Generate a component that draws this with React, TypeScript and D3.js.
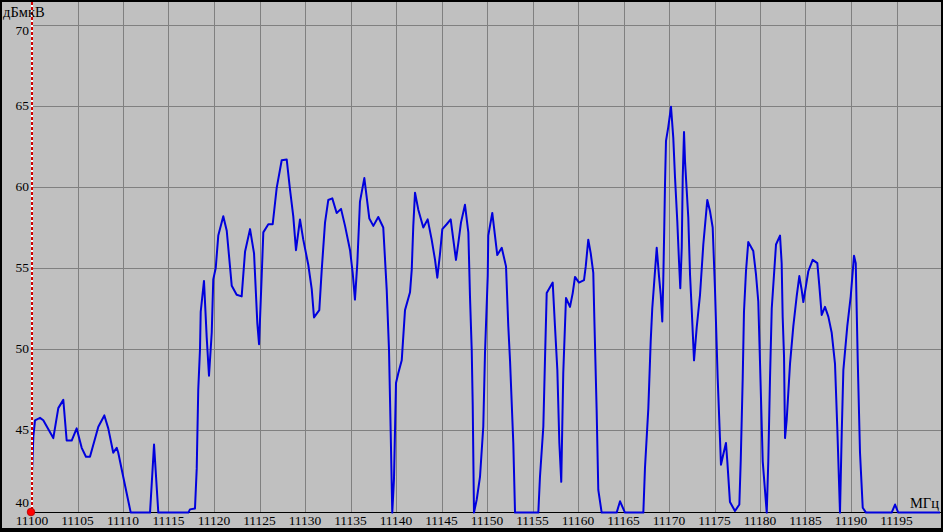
import React from "react";
import * as d3 from "d3";

// Spectrum trace (frequency in MHz, level in dBµV)
const FREQ_MHZ = [
  11100.0, 11100.15, 11100.33, 11100.88, 11101.24, 11102.34, 11102.89, 11103.44, 11103.81, 11104.36,
  11104.91, 11105.46, 11105.93, 11106.37, 11107.29, 11107.95, 11108.38, 11108.93, 11109.31, 11109.48,
  11110.03, 11110.85, 11112.97, 11113.41, 11113.88, 11117.18, 11117.36, 11117.91, 11118.1, 11118.27,
  11118.46, 11118.54, 11118.9, 11119.2, 11119.45, 11119.75, 11119.92, 11120.19, 11120.47, 11121.02,
  11121.4, 11121.95, 11122.49, 11123.04, 11123.41, 11123.96, 11124.4, 11124.76, 11124.95, 11125.24,
  11125.42, 11125.97, 11126.45, 11126.89, 11127.44, 11127.99, 11128.35, 11128.71, 11129.01, 11129.45,
  11129.81, 11130.36, 11130.74, 11130.99, 11131.57, 11131.84, 11132.2, 11132.56, 11133.0, 11133.48,
  11133.96, 11134.4, 11134.95, 11135.24, 11135.49, 11135.75, 11136.04, 11136.52, 11137.07, 11137.51,
  11138.05, 11138.6, 11138.98, 11139.23, 11139.42, 11139.59, 11139.78, 11140.0, 11140.25, 11140.63,
  11140.99, 11141.54, 11141.73, 11141.9, 11142.09, 11142.45, 11143.0, 11143.48, 11143.92, 11144.29,
  11144.54, 11144.84, 11145.09, 11145.57, 11146.01, 11146.3, 11146.59, 11146.85, 11147.14, 11147.58,
  11147.95, 11148.13, 11148.32, 11148.43, 11148.57, 11148.87, 11149.23, 11149.59, 11149.78, 11150.08,
  11150.14, 11150.58, 11151.13, 11151.62, 11152.09, 11152.34, 11152.53, 11152.89, 11153.08, 11155.64,
  11155.82, 11156.19, 11156.37, 11156.56, 11157.22, 11157.47, 11157.73, 11157.95, 11158.16, 11158.38,
  11158.68, 11159.12, 11159.42, 11159.67, 11160.11, 11160.66, 11160.85, 11161.13, 11161.4, 11161.68,
  11161.79, 11162.05, 11162.23, 11162.6, 11164.25, 11164.62, 11165.16, 11167.18, 11167.36, 11167.73,
  11167.99, 11168.16, 11168.35, 11168.65, 11168.9, 11169.09, 11169.26, 11169.37, 11169.48, 11169.56,
  11169.67, 11169.92, 11170.22, 11170.47, 11170.66, 11170.91, 11171.1, 11171.24, 11171.4, 11171.51,
  11171.65, 11171.76, 11171.95, 11172.12, 11172.31, 11172.49, 11172.75, 11173.04, 11173.41, 11173.77,
  11174.21, 11174.51, 11174.8, 11175.05, 11175.35, 11175.6, 11175.71, 11175.97, 11176.26, 11176.41,
  11176.7, 11177.25, 11177.73, 11177.88, 11178.1, 11178.24, 11178.46, 11178.71, 11179.26, 11179.56,
  11179.81, 11180.0, 11180.3, 11180.74, 11180.91, 11181.1, 11181.29, 11181.54, 11181.76, 11182.2,
  11182.38, 11182.49, 11182.64, 11182.75, 11182.93, 11183.3, 11183.66, 11184.03, 11184.32, 11184.58,
  11184.76, 11185.05, 11185.31, 11185.79, 11186.3, 11186.52, 11186.78, 11187.14, 11187.51, 11187.88,
  11188.24, 11188.49, 11188.79, 11188.98, 11189.16, 11189.59, 11189.97, 11190.33, 11190.52, 11190.74,
  11190.99, 11191.29, 11191.65, 11194.47, 11194.84, 11195.19, 11199.78,
];

const LEVEL_DB = [
  42.35, 44.6, 45.6, 45.75, 45.6, 44.5, 46.35, 46.86, 44.35, 44.35,
  45.1, 43.9, 43.35, 43.35, 45.2, 45.9, 45.1, 43.6, 43.9, 43.6,
  42.1, 39.9, 39.9, 44.1, 39.9, 39.9, 40.1, 40.15, 42.6, 47.5,
  49.96, 52.3, 54.2, 50.7, 48.35, 51.0, 54.3, 55.0, 57.0, 58.2,
  57.3, 53.9, 53.35, 53.25, 56.0, 57.4, 55.9, 51.6, 50.3, 54.5,
  57.2, 57.7, 57.7, 59.95, 61.65, 61.7, 59.85, 58.2, 56.1, 58.0,
  56.75, 55.2, 53.7, 51.95, 52.4, 54.9, 57.8, 59.2, 59.3, 58.4,
  58.65, 57.6, 56.1, 54.7, 53.05, 55.3, 59.1, 60.55, 58.05, 57.6,
  58.15, 57.5, 53.65, 49.96, 44.8, 39.9, 42.0, 47.9, 48.5, 49.3,
  52.4, 53.5, 54.9, 57.6, 59.65, 58.6, 57.5, 58.0, 56.75, 55.5,
  54.4, 55.9, 57.4, 57.7, 58.0, 56.75, 55.5, 56.55, 57.8, 58.9,
  57.2, 53.25, 49.96, 46.55, 39.9, 40.7, 42.1, 45.2, 49.75, 54.5,
  57.0, 58.4, 55.8, 56.25, 55.1, 51.4, 49.3, 44.2, 39.9, 39.9,
  42.1, 45.2, 49.3, 53.45, 54.1, 51.4, 48.7, 44.2, 41.8, 48.5,
  53.15, 52.6, 53.45, 54.45, 54.1, 54.25, 55.1, 56.75, 55.9, 54.7,
  52.0, 46.2, 41.3, 39.9, 39.9, 40.6, 39.9, 39.9, 42.65, 46.35,
  50.5, 52.5, 53.95, 56.25, 54.5, 53.35, 51.7, 54.2, 57.5, 60.15,
  62.85, 63.7, 64.95, 63.05, 60.6, 57.9, 55.4, 53.75, 56.25, 60.6,
  63.4, 61.6, 59.75, 58.1, 54.6, 52.5, 49.3, 51.3, 53.35, 56.45,
  59.2, 58.5, 57.5, 53.75, 48.2, 44.5, 42.85, 43.5, 44.2, 43.05,
  40.55, 40.0, 40.4, 43.05, 48.2, 52.3, 54.8, 56.6, 56.05, 54.6,
  52.95, 49.2, 43.05, 39.9, 43.05, 48.2, 52.5, 54.6, 56.45, 57.0,
  55.3, 52.0, 49.55, 44.5, 45.6, 49.1, 51.4, 53.25, 54.5, 53.65,
  52.9, 53.9, 54.8, 55.5, 55.3, 53.9, 52.1, 52.6, 52.0, 51.0,
  49.1, 45.2, 39.9, 44.8, 48.7, 51.4, 53.25, 55.75, 55.3, 49.3,
  43.6, 40.2, 39.9, 39.9, 40.4, 39.9, 39.9,
];

const X_TICKS = [
  11100, 11105, 11110, 11115, 11120, 11125, 11130, 11135, 11140, 11145,
  11150, 11155, 11160, 11165, 11170, 11175, 11180, 11185, 11190, 11195,
];
const Y_TICKS = [40, 45, 50, 55, 60, 65, 70];
const Y_UNIT = "дБмкВ";
const X_UNIT = "МГц";

const W = 943;
const H = 532;
const FONT = "'Liberation Serif', 'Times New Roman', serif";

export default function App() {
  const x = d3.scaleLinear().domain([11100, 11200]).range([32, 942]);
  const y = d3.scaleLinear().domain([40, 70]).range([511, 25]);
  const pts = FREQ_MHZ.map((f, i) => [f, LEVEL_DB[i]] as [number, number]);
  const line = d3
    .line<[number, number]>()
    .x((d) => x(d[0]))
    .y((d) => y(d[1]));

  const plotLeft = x(11100);
  const axisY = 512;

  const yLabelPos = (v: number) => {
    if (v === 70) return y(v) + 7;
    if (v === 40) return y(v) - 7;
    return y(v) + 1;
  };

  return (
    <svg
      width={W}
      height={H}
      style={{ position: "absolute", left: 0, top: 0, display: "block" }}
      fontFamily={FONT}
    >
      <rect x={0} y={0} width={W} height={H} fill="#000" />
      <rect x={2} y={2} width={W - 4} height={H - 6} fill="#c0c0c0" />

      {/* horizontal grid */}
      {Y_TICKS.filter((v) => v !== 40).map((v) => (
        <line
          key={"h" + v}
          x1={plotLeft}
          x2={W - 2}
          y1={Math.round(y(v)) + 0.5}
          y2={Math.round(y(v)) + 0.5}
          stroke="#808080"
          strokeWidth={1}
        />
      ))}
      {/* vertical grid */}
      {X_TICKS.filter((f) => f !== 11100).map((f) => (
        <line
          key={"v" + f}
          x1={Math.round(x(f)) + 0.5}
          x2={Math.round(x(f)) + 0.5}
          y1={2}
          y2={axisY}
          stroke="#808080"
          strokeWidth={1}
        />
      ))}

      {/* x axis line */}
      <line x1={plotLeft - 2} x2={W - 2} y1={axisY + 0.5} y2={axisY + 0.5} stroke="#000" strokeWidth={1} />

      {/* trace */}
      <path d={line(pts) || ""} fill="none" stroke="#0000dd" strokeWidth={2} strokeLinejoin="round" />

      {/* marker line */}
      <line x1={plotLeft} x2={plotLeft} y1={2} y2={axisY} stroke="#ffffff" strokeWidth={2} />
      <line
        x1={plotLeft}
        x2={plotLeft}
        y1={2}
        y2={axisY}
        stroke="#d00000"
        strokeWidth={2}
        strokeDasharray="3,2"
      />
      <circle cx={plotLeft - 1} cy={axisY} r={3.8} fill="#ff0000" stroke="#b00000" strokeWidth={0.8} />

      {/* y tick labels */}
      {Y_TICKS.map((v) => (
        <text
          key={"yl" + v}
          x={29}
          y={yLabelPos(v)}
          textAnchor="end"
          dominantBaseline="middle"
          fontSize={13.5}
          fill="#000"
        >
          {v}
        </text>
      ))}
      {/* x tick labels */}
      {X_TICKS.map((f) => (
        <text key={"xl" + f} x={x(f)} y={525} textAnchor="middle" fontSize={13.5} fill="#000">
          {f}
        </text>
      ))}

      <text x={3} y={17} fontSize={14.5} fill="#000">
        {Y_UNIT}
      </text>
      <text x={939} y={508} textAnchor="end" fontSize={14.5} fill="#000">
        {X_UNIT}
      </text>
    </svg>
  );
}
